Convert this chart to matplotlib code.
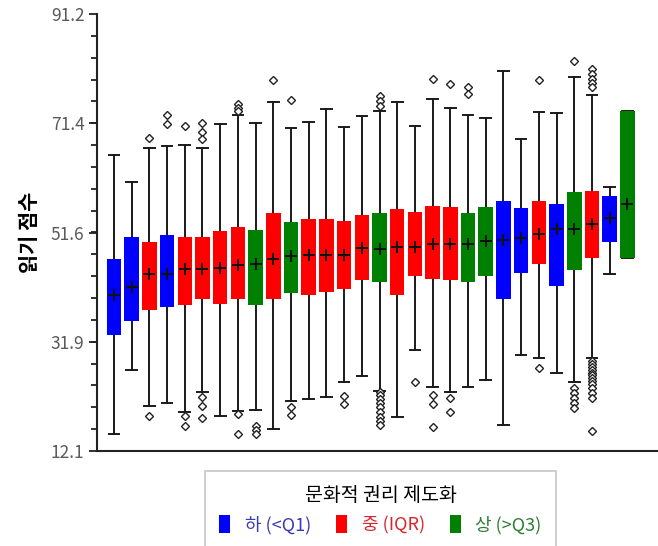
import numpy as np
import matplotlib
matplotlib.use('Agg')
import matplotlib.pyplot as plt
from matplotlib.patches import Patch

plt.rcParams['font.family'] = ['Noto Sans CJK KR', 'DejaVu Sans']

## data

groups = ['L', 'L', 'M', 'L', 'M', 'M', 'M', 'M', 'H', 'M',
          'H', 'M', 'M', 'M', 'M', 'H', 'M', 'M', 'M', 'M',
          'H', 'H', 'L', 'L', 'M', 'L', 'H', 'M', 'L', 'H']

whis_hi = [65.6, 60.8, 67.0, 67.3, 67.4, 67.0, 71.3, 72.9, 71.4, 75.3,
           70.5, 71.7, 74.0, 70.7, 72.8, 73.6, 75.3, 70.9, 75.8, 74.2,
           72.9, 72.3, 80.9, 68.6, 73.4, 73.2, 79.85, 76.6, 59.9, 73.6]
q3 = [46.9, 50.9, 49.9, 51.2, 50.9, 50.9, 52.0, 52.7, 52.1, 55.2,
      53.6, 54.1, 54.1, 53.8, 54.9, 55.1, 55.9, 55.4, 56.5, 56.2,
      55.1, 56.2, 57.35, 56.0, 57.35, 56.8, 59.0, 59.2, 58.3, 73.6]
means = [40.4, 41.85, 44.1, 44.1, 45.0, 45.0, 45.2, 45.7, 45.95, 46.9,
         47.4, 47.6, 47.6, 47.6, 48.8, 48.6, 49.0, 49.0, 49.5, 49.5,
         49.5, 50.1, 50.3, 50.6, 51.3, 52.2, 52.2, 53.2, 54.3, 56.8]
q1 = [33.15, 35.7, 37.6, 38.2, 38.5, 39.6, 38.7, 39.6, 38.5, 39.6,
      40.65, 40.3, 40.8, 41.5, 43.1, 42.6, 40.3, 43.8, 43.3, 43.1,
      42.6, 43.8, 39.7, 44.4, 45.95, 42.0, 44.9, 47.0, 50.0, 47.0]
whis_lo = [15.2, 26.8, 20.25, 20.85, 19.2, 22.7, 18.4, 19.3, 19.5, 16.0,
           21.2, 21.5, 21.8, 24.65, 25.7, 23.0, 18.2, 30.3, 23.7, 22.7,
           23.6, 24.9, 16.8, 29.4, 28.9, 26.3, 24.65, 28.9, 44.1, 47.0]
outliers = [
    [], [], [68.8, 18.4], [72.9, 71.3], [70.9, 18.4, 16.7],
    [71.4, 69.9, 68.5, 21.9, 20.2, 18.0], [], [74.9, 74.1, 73.7, 18.8, 15.2],
    [16.6, 15.9, 15.2], [79.25],
    [75.6, 20.0, 18.6], [], [], [22.05, 20.55], [],
    [76.4, 75.5, 74.55, 22.85, 22.2, 21.45, 20.7, 20.0, 19.1, 18.25, 17.5, 16.75],
    [], [24.65], [79.4, 22.2, 20.55, 16.4], [78.5, 21.65, 19.1],
    [77.9, 76.7], [], [], [], [79.25, 27.1], [],
    [82.75, 23.45, 22.6, 21.65, 20.7, 19.8],
    [81.25, 80.3, 79.4, 78.65, 77.9, 28.3, 27.8, 27.3, 26.8, 26.3, 25.8,
     25.3, 24.8, 24.3, 23.45, 22.6, 21.65, 15.8],
    [], [],
]

yticks = [12.1, 31.9, 51.6, 71.4, 91.2]
legend_labels = ['하 (<Q1)', '중 (IQR)', '상 (>Q3)']
box_colors = {'L': '#0000ff', 'M': '#ff0000', 'H': '#008000'}
text_colors = ['#3a3ab4', '#d8262b', '#2d7d33']


## figure

fig = plt.figure(figsize=(6.58, 5.46), dpi=100)
ax = fig.add_axes([0.1474, 0.174, 0.8526, 0.8004])

stats = []
for i in range(len(groups)):
	stats.append(dict(med=means[i], q1=q1[i], q3=q3[i], whislo=whis_lo[i],
	                  whishi=whis_hi[i], mean=means[i], fliers=outliers[i]))

pos = np.arange(1, len(groups) + 1)
bp = ax.bxp(stats, positions=pos, widths=0.82, capwidths=0.6,
            patch_artist=True, showmeans=True,
            boxprops=dict(linewidth=0),
            whiskerprops=dict(color='#1a1a1a', linewidth=1.4),
            capprops=dict(color='#1a1a1a', linewidth=1.4),
            medianprops=dict(linewidth=0),
            meanprops=dict(marker='+', markeredgecolor='#111111', markersize=9,
                           markeredgewidth=1.4),
            flierprops=dict(marker='D', markerfacecolor='white',
                            markeredgecolor='#222222', markersize=4,
                            markeredgewidth=1.0))

for patch, g in zip(bp['boxes'], groups):
	patch.set_facecolor(box_colors[g])
	patch.set_edgecolor(box_colors[g])
	patch.set_zorder(3)
for m in bp['means']:
	m.set_zorder(4)

ax.set_xlim(0.04, 31.73)
ax.set_ylim(12.1, 91.2)
ax.set_yticks(yticks)
ax.set_yticklabels(['%.1f' % t for t in yticks])
ax.set_yticks(np.linspace(12.1, 91.2, 21), minor=True)
ax.tick_params(axis='y', which='major', length=6, width=1.3, colors='#222222',
               labelcolor='#5a5a5a', labelsize=12.5, pad=3)
ax.tick_params(axis='y', which='minor', length=4, width=1.3, colors='#222222')
ax.tick_params(axis='x', which='both', bottom=False, labelbottom=False)
for s in ['top', 'right']:
	ax.spines[s].set_visible(False)
for s in ['left', 'bottom']:
	ax.spines[s].set_linewidth(1.5)
	ax.spines[s].set_color('#222222')

ax.set_ylabel('읽기 점수', fontsize=15, fontweight='bold', labelpad=8)

handles = [Patch(facecolor=box_colors[k], edgecolor='none') for k in ['L', 'M', 'H']]
leg = fig.legend(handles, legend_labels, title='문화적 권리 제도화', ncol=3,
                 loc='upper center', bbox_to_anchor=(380.5 / 658, 1 - 471 / 546),
                 fontsize=13, title_fontsize=14, frameon=True, fancybox=False,
                 edgecolor='#bdbdbd', handlelength=0.6, handleheight=1.1,
                 handletextpad=0.8, columnspacing=1.4, borderpad=0.8,
                 borderaxespad=0)
leg.get_frame().set_linewidth(1.3)
for t, c in zip(leg.get_texts(), text_colors):
	t.set_color(c)

fig.savefig('out.png', dpi=100)
